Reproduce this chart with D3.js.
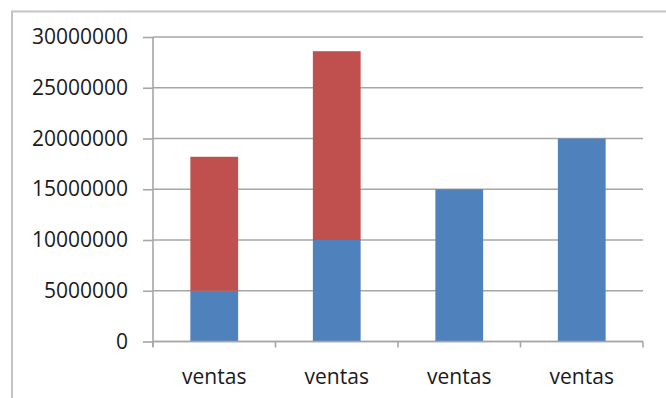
<!DOCTYPE html>
<html>
<head>
<meta charset="utf-8">
<script src="https://cdn.jsdelivr.net/npm/d3@7/dist/d3.min.js"></script>
<style>
  html, body { margin: 0; padding: 0; background: #fff; }
  svg { display: block; }
  text { font-family: "Open Sans", "Liberation Sans", sans-serif; fill: #1a1a1a; }
</style>
</head>
<body>
<svg id="chart" width="666" height="398"></svg>
<script>
// Category labels along the x axis
const categories = ["ventas", "ventas", "ventas", "ventas"];
// Lower (blue) segment of each column
const seriesBase = [5000000, 10000000, 15000000, 20000000];
// Upper (red) segment stacked on top
const seriesTop = [13200000, 18600000, 0, 0];
// Value axis ticks
const yTicks = [0, 5000000, 10000000, 15000000, 20000000, 25000000, 30000000];

const colors = ["#4F81BD", "#C0504D"];

const svg = d3.select("#chart");
const plot = { left: 153, right: 643, top: 37, bottom: 341.5 };

// Outer chart frame (top and left edges visible)
svg.append("rect")
  .attr("x", 12).attr("y", 11.5)
  .attr("width", 700).attr("height", 420)
  .attr("fill", "none")
  .attr("stroke", "#c4c4c4")
  .attr("stroke-width", 2);

const x = d3.scaleBand()
  .domain(categories.map((_, i) => i))
  .range([plot.left, plot.right])
  .paddingInner(0.61)
  .paddingOuter(0.305);

const y = d3.scaleLinear()
  .domain([0, 30000000])
  .range([plot.bottom, plot.top]);

// Horizontal gridlines
svg.append("g")
  .selectAll("line")
  .data(yTicks)
  .join("line")
  .attr("x1", plot.left).attr("x2", plot.right)
  .attr("y1", d => y(d)).attr("y2", d => y(d))
  .attr("stroke", "#a6a6a6")
  .attr("stroke-width", 1.6);

// Stacked columns
const rows = categories.map((c, i) => ({ i, base: seriesBase[i], top: seriesTop[i] }));
const stack = d3.stack().keys(["base", "top"])(rows);

svg.append("g")
  .selectAll("g")
  .data(stack)
  .join("g")
  .attr("fill", (_, k) => colors[k])
  .selectAll("rect")
  .data(d => d.filter(s => s[1] > s[0]))
  .join("rect")
  .attr("x", d => x(d.data.i))
  .attr("width", x.bandwidth())
  .attr("y", d => y(d[1]))
  .attr("height", d => y(d[0]) - y(d[1]));

// Value axis
const yAxis = d3.axisLeft(y)
  .tickValues(yTicks)
  .tickFormat(d3.format("d"))
  .tickSize(10)
  .tickPadding(15);

const gy = svg.append("g")
  .attr("transform", `translate(${plot.left},0)`)
  .call(yAxis);
gy.select(".domain").attr("stroke", "#a6a6a6").attr("stroke-width", 1.6)
  .attr("d", `M0,${plot.top}V${plot.bottom + 5}`);
gy.selectAll(".tick line").attr("stroke", "#a6a6a6").attr("stroke-width", 1.6);
gy.selectAll(".tick text")
  .attr("font-size", 21)
  .attr("fill", "#1a1a1a")
  .attr("font-family", "'Open Sans', sans-serif");

// Category axis: ticks sit at the boundaries between categories
const bounds = d3.range(categories.length + 1)
  .map(i => plot.left + i * (plot.right - plot.left) / categories.length);
const gx = svg.append("g");
gx.append("line")
  .attr("x1", plot.left).attr("x2", plot.right)
  .attr("y1", plot.bottom).attr("y2", plot.bottom)
  .attr("stroke", "#a6a6a6").attr("stroke-width", 1.6);
gx.selectAll("line.tick")
  .data(bounds)
  .join("line")
  .attr("class", "tick")
  .attr("x1", d => d).attr("x2", d => d)
  .attr("y1", plot.bottom).attr("y2", plot.bottom + 6)
  .attr("stroke", "#a6a6a6").attr("stroke-width", 1.6);
gx.selectAll("text")
  .data(categories)
  .join("text")
  .attr("x", (_, i) => x(i) + x.bandwidth() / 2)
  .attr("y", 384)
  .attr("text-anchor", "middle")
  .attr("font-size", 21)
  .text(d => d);
</script>
</body>
</html>
